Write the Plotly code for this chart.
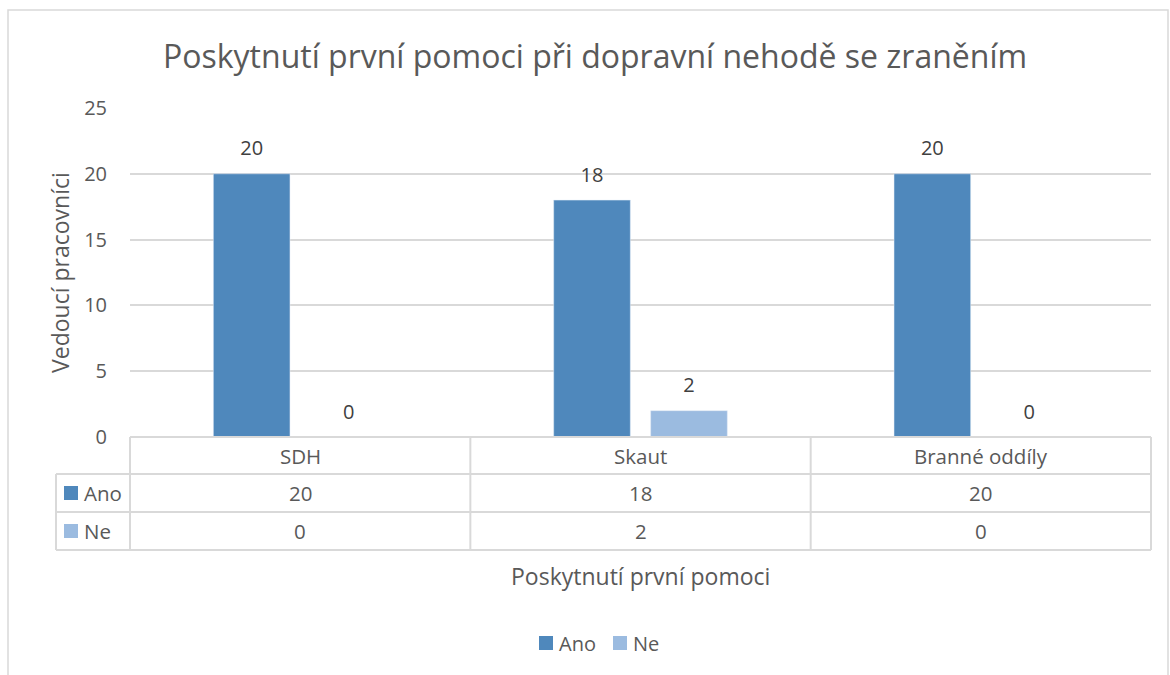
import plotly.graph_objects as go

categories = ["SDH", "Skaut", "Branné oddíly"]
series_names = ["Ano", "Ne"]
ano = [20, 18, 20]
ne = [0, 2, 0]
y_ticks = [0, 5, 10, 15, 20, 25]

title = "Poskytnutí první pomoci při dopravní nehodě se zraněním"
y_title = "Vedoucí pracovníci"
x_title = "Poskytnutí první pomoci"

W, H = 1170, 675
C_ANO = "#4F88BC"
C_NE = "#9BBBE0"
GRID = "#D9D9D9"
TXT = "#595959"
LBL = "#404040"
FONT = "Open Sans"

def px(x):
    return x / W

def py(y):
    return 1 - y / H

L, R, T, B = 130, 1151, 108, 437
ROWS = [437, 474, 512, 550]

fig = go.Figure()
for name, vals, col in [(series_names[0], ano, C_ANO), (series_names[1], ne, C_NE)]:
    fig.add_trace(go.Bar(name=name, x=categories, y=vals, marker_color=col,
                         offsetgroup=name, hoverinfo="x+y+name", showlegend=False))
for name, vals in [(series_names[0], ano), (series_names[1], ne)]:
    fig.add_trace(go.Scatter(x=categories, y=vals, mode="markers+text", text=[str(v) for v in vals],
                             textposition="top center", offsetgroup=name, showlegend=False,
                             marker=dict(size=20, color="rgba(0,0,0,0)"), hoverinfo="skip",
                             cliponaxis=False,
                             textfont=dict(size=20, color=LBL, family=FONT)))

shapes = []
line = dict(color=GRID, width=2)
# outer border
shapes.append(dict(type="rect", xref="paper", yref="paper", x0=px(8), x1=px(1168),
                   y0=py(700), y1=py(10), line=dict(color=GRID, width=1.5), layer="below"))
# table horizontal lines
shapes.append(dict(type="line", xref="paper", yref="paper", x0=px(L), x1=px(R),
                   y0=py(ROWS[0]), y1=py(ROWS[0]), line=line))
for yy in ROWS[1:]:
    shapes.append(dict(type="line", xref="paper", yref="paper", x0=px(56), x1=px(R),
                       y0=py(yy), y1=py(yy), line=line))
# vertical lines
col_w = (R - L) / len(categories)
for i in range(len(categories) + 1):
    xx = L + i * col_w
    shapes.append(dict(type="line", xref="paper", yref="paper", x0=px(xx), x1=px(xx),
                       y0=py(ROWS[0]), y1=py(ROWS[3]), line=line))
shapes.append(dict(type="line", xref="paper", yref="paper", x0=px(56), x1=px(56),
                   y0=py(ROWS[1]), y1=py(ROWS[3]), line=line))

annotations = []
TF = dict(size=20.5, color=TXT, family=FONT)
for i, c in enumerate(categories):
    cx = L + (i + 0.5) * col_w
    annotations.append(dict(x=px(cx), y=py((ROWS[0] + ROWS[1]) / 2), xref="paper", yref="paper",
                            xanchor="center", yanchor="middle", text=c, showarrow=False, font=TF))
for r, (name, vals, col) in enumerate([(series_names[0], ano, C_ANO), (series_names[1], ne, C_NE)]):
    yc = (ROWS[r + 1] + ROWS[r + 2]) / 2
    for i, v in enumerate(vals):
        cx = L + (i + 0.5) * col_w
        annotations.append(dict(x=px(cx), y=py(yc), xref="paper", yref="paper", xanchor="center",
                                yanchor="middle", text=str(v), showarrow=False, font=TF))
    shapes.append(dict(type="rect", xref="paper", yref="paper", x0=px(64), x1=px(78),
                       y0=py(yc + 7), y1=py(yc - 7), fillcolor=col, line=dict(width=0)))
    annotations.append(dict(x=px(82), y=py(yc), xref="paper", yref="paper", xanchor="left",
                            yanchor="middle", text=name, showarrow=False, font=TF))

# bottom legend
LEG_Y = 643
leg_x = [539, 613]
for name, col, lx in zip(series_names, [C_ANO, C_NE], leg_x):
    shapes.append(dict(type="rect", xref="paper", yref="paper", x0=px(lx), x1=px(lx + 14),
                       y0=py(LEG_Y + 7), y1=py(LEG_Y - 7), fillcolor=col, line=dict(width=0)))
    annotations.append(dict(x=px(lx + 18), y=py(LEG_Y), xref="paper", yref="paper", xanchor="left",
                            yanchor="middle", text=name, showarrow=False,
                            font=dict(size=20, color=TXT, family=FONT)))

annotations.append(dict(x=px(60), y=py(273), xref="paper", yref="paper", text=y_title, textangle=-90,
                        xanchor="center", yanchor="middle",
                        showarrow=False, font=dict(size=23, color=TXT, family=FONT)))
annotations.append(dict(x=px(640), y=py(576), xref="paper", yref="paper", text=x_title,
                        xanchor="center", yanchor="middle", showarrow=False,
                        font=dict(size=23, color=TXT, family=FONT)))
annotations.append(dict(x=px(595), y=py(56), xref="paper", yref="paper", text=title,
                        xanchor="center", yanchor="middle", showarrow=False,
                        font=dict(size=32, color=TXT, family=FONT)))

fig.update_layout(
    width=W, height=H,
    margin=dict(l=0, r=0, t=0, b=0, autoexpand=False),
    paper_bgcolor="white", plot_bgcolor="white",
    barmode="group", bargap=0.43, bargroupgap=0.21,
    scattermode="group",
    showlegend=False,
    font=dict(family=FONT, color=TXT),
    xaxis=dict(domain=[px(L), px(R)], showticklabels=False, showgrid=False, zeroline=False,
               showline=False, ticks="", automargin=False),
    yaxis=dict(domain=[py(B), py(T)], range=[0, 25], tickvals=y_ticks, showgrid=True,
               gridcolor=GRID, gridwidth=1.5, zeroline=False, showline=False, automargin=False,
               ticklabelstandoff=22, tickfont=dict(size=20, color=TXT, family=FONT)),
    shapes=shapes, annotations=annotations,
)

fig.write_html("out.html", config={"displayModeBar": False},
               post_script="document.body.style.margin='0';document.body.style.overflow='hidden';")
